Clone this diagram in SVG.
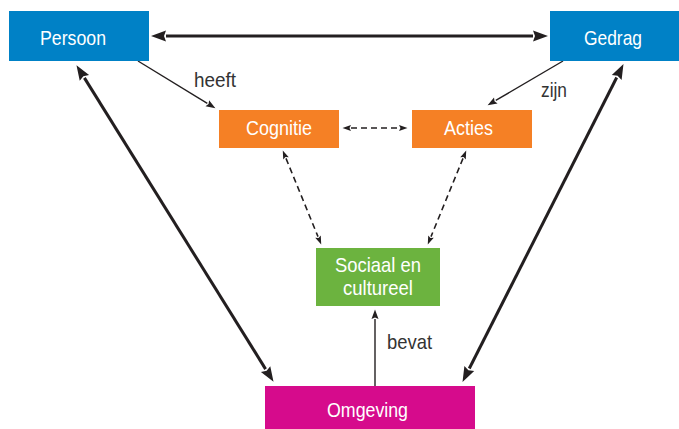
<svg xmlns="http://www.w3.org/2000/svg" width="679" height="429" viewBox="0 0 679 429">
<style>
.box text, text.lbl { font-family: "Liberation Sans", Arial, sans-serif; font-size: 21px; }
.box text { fill: #ffffff; }
text.lbl { fill: #333333; }
.blue { fill: #0081C6; }
.orange { fill: #F58025; }
.green { fill: #6CB33F; }
.magenta { fill: #D60B8C; }
.thick { stroke: #231F20; stroke-width: 3; fill: none; }
.thin { stroke: #231F20; stroke-width: 1.4; fill: none; }
.dash { stroke: #231F20; stroke-width: 1.6; fill: none; stroke-dasharray: 6 4; }
</style>
<defs>
<marker id="hThick" markerUnits="userSpaceOnUse" markerWidth="16" markerHeight="12" refX="0" refY="6" orient="auto-start-reverse" overflow="visible">
<path d="M0,0.5 L15,6 L0,11.5 L2,6 Z" fill="#231F20"/>
</marker>
<marker id="hThin" markerUnits="userSpaceOnUse" markerWidth="10" markerHeight="8" refX="0" refY="4" orient="auto-start-reverse" overflow="visible">
<path d="M0,0.5 L9.5,4 L0,7.5 L1.5,4 Z" fill="#231F20"/>
</marker>
<marker id="hDash" markerUnits="userSpaceOnUse" markerWidth="9" markerHeight="7" refX="0" refY="3.5" orient="auto-start-reverse" overflow="visible">
<path d="M0,0.5 L8.5,3.5 L0,6.5 L1.5,3.5 Z" fill="#231F20"/>
</marker>
</defs>

<g id="connectors">
<line class="thick" x1="166" y1="36" x2="533" y2="36" marker-start="url(#hThick)" marker-end="url(#hThick)"/>
<line class="thick" x1="84.4" y1="77.9" x2="265.6" y2="369.1" marker-start="url(#hThick)" marker-end="url(#hThick)"/>
<line class="thick" x1="616.7" y1="77.5" x2="469.3" y2="368.5" marker-start="url(#hThick)" marker-end="url(#hThick)"/>
<line class="thin" x1="138" y1="61" x2="207.3" y2="103.3" marker-end="url(#hThin)"/>
<line class="thin" x1="563" y1="61" x2="495.8" y2="100.4" marker-end="url(#hThin)"/>
<line class="thin" x1="375" y1="386" x2="375" y2="319" marker-end="url(#hThin)"/>
<line class="dash" x1="351" y1="128" x2="399" y2="128" marker-start="url(#hDash)" marker-end="url(#hDash)"/>
<line class="dash" x1="286" y1="158.4" x2="318" y2="236.6" marker-start="url(#hDash)" marker-end="url(#hDash)"/>
<line class="dash" x1="463" y1="158.4" x2="431" y2="236.6" marker-start="url(#hDash)" marker-end="url(#hDash)"/>
<text class="lbl" x="194" y="87" textLength="42" lengthAdjust="spacingAndGlyphs">heeft</text>
<text class="lbl" x="541" y="97" textLength="26" lengthAdjust="spacingAndGlyphs">zijn</text>
<text class="lbl" x="387" y="349" textLength="45" lengthAdjust="spacingAndGlyphs">bevat</text>
</g>

<g id="persoon" class="box">
<rect class="blue" x="9" y="11" width="140" height="50"/>
<text x="40" y="45" textLength="66" lengthAdjust="spacingAndGlyphs">Persoon</text>
</g>
<g id="gedrag" class="box">
<rect class="blue" x="550" y="11" width="129" height="50"/>
<text x="584" y="45" textLength="58" lengthAdjust="spacingAndGlyphs">Gedrag</text>
</g>
<g id="cognitie" class="box">
<rect class="orange" x="219" y="110" width="120" height="38"/>
<text x="246" y="135" textLength="66" lengthAdjust="spacingAndGlyphs">Cognitie</text>
</g>
<g id="acties" class="box">
<rect class="orange" x="412" y="110" width="120" height="38"/>
<text x="444" y="135" textLength="49" lengthAdjust="spacingAndGlyphs">Acties</text>
</g>
<g id="sociaal" class="box">
<rect class="green" x="316" y="248" width="124" height="58"/>
<text x="335" y="272" textLength="86" lengthAdjust="spacingAndGlyphs">Sociaal en</text>
<text x="343" y="295" textLength="70" lengthAdjust="spacingAndGlyphs">cultureel</text>
</g>
<g id="omgeving" class="box">
<rect class="magenta" x="265" y="386" width="210" height="43"/>
<text x="327" y="417" textLength="81" lengthAdjust="spacingAndGlyphs">Omgeving</text>
</g>
</svg>
